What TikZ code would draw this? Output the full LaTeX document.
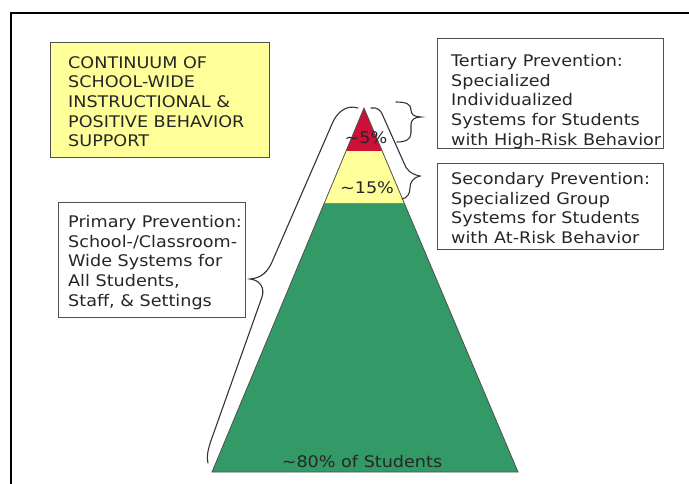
\documentclass[tikz,border=0pt]{standalone}
\usepackage{fontspec}
\setmainfont{DejaVu Sans}[FakeStretch=1.1]
\usetikzlibrary{calc}
\definecolor{tipred}{RGB}{204,16,56}
\definecolor{bandyellow}{RGB}{255,255,153}
\definecolor{basegreen}{RGB}{51,153,102}
\definecolor{edgegray}{RGB}{80,80,80}
\tikzset{
	panel/.style={draw=edgegray, line width=1.2pt, inner sep=0pt, anchor=north west},
	paneltext/.style={align=left, inner sep=0pt, anchor=north west, text=black!85, font=\fontsize{16}{19.7}\selectfont},
	bracket/.style={line width=1.1pt, black!80, line cap=round},
	share/.style={inner sep=0pt, text=black!85, font=\fontsize{16}{19.7}\selectfont}
}
\begin{document}
\begin{tikzpicture}[x=1pt, y=-1pt]
	\useasboundingbox (0,0) rectangle (689,483);
	\clip (0,0) rectangle (689,483);
	\draw[line width=2pt] (11,500) |- (700,13); %frame

	% pyramid
	\coordinate (apex) at (364,108);
	\coordinate (baseL) at (212,472);
	\coordinate (baseR) at (518,472);
	\coordinate (redL) at ($(apex)!0.118!(baseL)$);
	\coordinate (redR) at ($(apex)!0.118!(baseR)$);
	\coordinate (yelL) at ($(apex)!0.261!(baseL)$);
	\coordinate (yelR) at ($(apex)!0.261!(baseR)$);
	\fill[basegreen] (yelL) -- (yelR) -- (baseR) -- (baseL) -- cycle;
	\fill[bandyellow] (redL) -- (redR) -- (yelR) -- (yelL) -- cycle;
	\fill[tipred] (apex) -- (redR) -- (redL) -- cycle;
	\draw[edgegray, line width=0.8pt] (apex) -- (baseR) -- (baseL) -- cycle;

	\node[share] (five) at (366,138) {∼5\%};
	\node[share] (fifteen) at (367,188) {∼15\%};
	\node[share] (eighty) at (362,462) {∼80\% of Students};

	% boxes
	\node[panel, fill=bandyellow, minimum width=219pt, minimum height=115pt] (title) at (50,42) {};
	\node[panel, minimum width=226pt, minimum height=110pt] (tertiary) at (437,38) {};
	\node[panel, minimum width=226pt, minimum height=86pt] (secondary) at (437,163) {};
	\node[panel, minimum width=187pt, minimum height=115pt] (primary) at (58,202) {};

	\node[paneltext] (titletext) at ([xshift=18pt,yshift=-14pt]title.north west)
		{CONTINUUM OF\\SCHOOL-WIDE\\INSTRUCTIONAL \&\\POSITIVE BEHAVIOR\\SUPPORT};
	\node[paneltext] (tertiarytext) at ([xshift=14pt,yshift=-16pt]tertiary.north west)
		{Tertiary Prevention:\\Specialized\\Individualized\\Systems for Students\\with High-Risk Behavior};
	\node[paneltext] (secondarytext) at ([xshift=14pt,yshift=-9pt]secondary.north west)
		{Secondary Prevention:\\Specialized Group\\Systems for Students\\with At-Risk Behavior};
	\node[paneltext] (primarytext) at ([xshift=10pt,yshift=-13pt]primary.north west)
		{Primary Prevention:\\School-/Classroom-\\Wide Systems for\\All Students,\\Staff, \& Settings};

	% braces
	\draw[bracket] (358,108) .. controls (345,104) and (336,114) .. (332,124) -- (272,262)
		.. controls (268,271) and (262,278) .. (250,279)
		.. controls (260,280) and (265,288) .. (262,297) -- (213,435)
		.. controls (209,446) and (206,455) .. (208,463); %primary
	\draw[bracket] (396,102) .. controls (406,102) and (411,104) .. (411,110)
		.. controls (411,114) and (414,117) .. (421,117)
		.. controls (414,117) and (411,120) .. (411,125) -- (411,133)
		.. controls (411,139) and (406,142) .. (397,142); %tertiary
	\draw[bracket] (371,108) .. controls (377,107) and (381,110) .. (383,116) -- (404,163)
		.. controls (406,169) and (410,174) .. (420,176)
		.. controls (413,178) and (410,182) .. (410,188)
		.. controls (410,194) and (407,198) .. (402,199); %secondary
\end{tikzpicture}
\end{document}
